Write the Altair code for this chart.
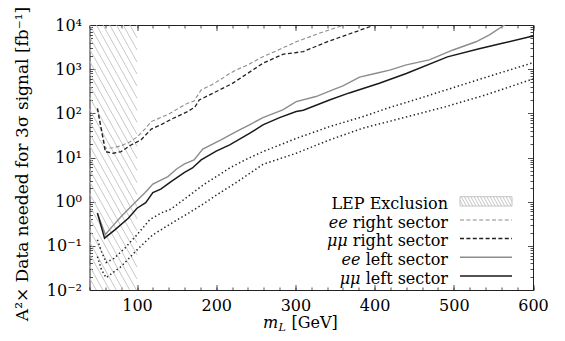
import altair as alt
import pandas as pd
import numpy as np

# ---------------- data ----------------
ee_right_x = [50, 60, 70, 80, 90, 100, 110, 118, 130, 140, 150, 164, 172, 181, 195, 206, 217, 225, 240, 259, 280, 301, 330, 345, 362, 372]
ee_right_y = [130, 16.2, 16.6, 18.5, 22, 29, 44, 65, 80, 96, 123, 170, 190, 338, 450, 590, 800, 955, 1250, 1920, 2800, 4170, 6470, 8000, 10000, 12500]

mu_right_x = [50, 60, 70, 80, 92, 105, 118, 130, 143, 164, 173, 178.5, 197.5, 220, 259, 284, 310, 340, 364, 400, 410]
mu_right_y = [130, 13.6, 12.5, 13.6, 19, 25, 44, 55, 73, 110, 138, 200, 295, 470, 1360, 2170, 2500, 4170, 5900, 10000, 12000]

ee_left_x = [50, 60, 70, 80, 90, 101, 110, 120, 139, 150, 160, 172, 183, 206, 217, 227, 242, 259, 284, 301, 326, 347, 360, 381, 402, 419, 440, 469, 499, 528, 545, 564, 572]
ee_left_y = [0.55, 0.18, 0.29, 0.46, 0.7, 1.1, 1.6, 2.5, 3.7, 5.5, 7.2, 8.8, 15.5, 25, 32, 40, 55, 80, 120, 184, 240, 338, 420, 660, 807, 950, 1250, 1620, 2720, 4170, 6000, 10000, 12500]

mu_left_x = [50, 59, 72, 89, 100, 111, 120, 130, 143, 160, 170, 181, 200, 217, 242, 259, 280, 301, 310, 343, 368, 406, 440, 492, 532, 560, 596, 600]
mu_left_y = [0.55, 0.149, 0.23, 0.42, 0.71, 0.95, 1.6, 1.92, 2.85, 4.6, 5.8, 8.8, 14, 19.3, 35, 55, 80, 110, 118, 200, 290, 480, 800, 1900, 2900, 3800, 5400, 5600]

dot_upper_x = [50, 55, 61, 71, 85, 100, 116, 130, 143, 164, 185, 206, 217, 240, 259, 301, 343, 385, 419, 450, 490, 540, 600]
dot_upper_y = [0.137, 0.075, 0.042, 0.052, 0.09, 0.178, 0.39, 0.55, 0.68, 1.3, 2.5, 4.3, 5.8, 9.5, 13.6, 27, 50, 84, 136, 200, 338, 650, 1400]

dot_lower_x = [50, 55, 61, 80, 100, 120, 143, 165, 185, 205, 225, 259, 301, 343, 385, 419, 490, 540, 600]
dot_lower_y = [0.057, 0.029, 0.019, 0.034, 0.081, 0.178, 0.32, 0.55, 0.92, 1.6, 2.7, 7, 12.5, 25, 46, 66, 142, 260, 600]

lep_range = [40, 100]

x_tick_values = [100, 200, 300, 400, 500, 600]
y_tick_values = [0.01, 0.1, 1, 10, 100, 1000, 10000]
y_tick_labels = ["10\u207b\u00b2", "10\u207b\u00b9", "10\u2070", "10\u00b9", "10\u00b2", "10\u00b3", "10\u2074"]

legend_regular = ["LEP Exclusion", "right sector", "right sector", "left sector", "left sector"]
legend_italic = ["", "ee", "\u03bc\u03bc", "ee", "\u03bc\u03bc"]

y_title = "A\u00b2\u00d7 Data needed for 3\u03c3 signal [fb\u207b\u00b9]"

# ---------------- layout / style ----------------
W, H = 443.5, 265
X_DOMAIN = [40, 600]
Y_DOMAIN = [1e-2, 1e4]
FONT = "DejaVu Serif"
FS = 16

xscale = alt.Scale(domain=X_DOMAIN, nice=False, zero=False)
yscale = alt.Scale(type="log", domain=Y_DOMAIN, nice=False)

LOG_MIN, LOG_MAX = np.log10(Y_DOMAIN[0]), np.log10(Y_DOMAIN[1])


def px_to_m(px):
    return X_DOMAIN[0] + px / W * (X_DOMAIN[1] - X_DOMAIN[0])


def py_to_v(py):
    return 10 ** (LOG_MAX - py / H * (LOG_MAX - LOG_MIN))


def m_to_px(m):
    return (m - X_DOMAIN[0]) / (X_DOMAIN[1] - X_DOMAIN[0]) * W


def hatch_segments(x0, y0, x1, y1, slope=1.8, spacing=6.7):
    rows = []
    c = x0 - (y1 - y0) / slope
    while c < x1:
        xs = max(c, x0)
        ys = y0 + slope * (xs - c)
        xe = min(x1, c + (y1 - y0) / slope)
        ye = y0 + slope * (xe - c)
        if ys < y1 and xe > xs:
            rows.append({"m": px_to_m(xs), "v": py_to_v(ys), "m2": px_to_m(xe), "v2": py_to_v(ye)})
        c += spacing
    return pd.DataFrame(rows)


def line_layer(xs, ys, color, width, dash=None):
    df = pd.DataFrame({"m": xs, "v": ys})
    kw = dict(color=color, strokeWidth=width, clip=True)
    if dash:
        kw["strokeDash"] = dash
    return alt.Chart(df).mark_line(**kw).encode(
        x=alt.X("m:Q", scale=xscale, axis=None),
        y=alt.Y("v:Q", scale=yscale, axis=None),
    )


anchor = pd.DataFrame({"m": [300], "v": [1.0]})


def axis_layer(xaxis=None, yaxis=None):
    return alt.Chart(anchor).mark_point(opacity=0, size=1).encode(
        x=alt.X("m:Q", scale=xscale, axis=xaxis),
        y=alt.Y("v:Q", scale=yscale, axis=yaxis),
    )


def tick_axis(orient, values, size):
    return alt.Axis(orient=orient, values=values, labels=False, domain=False, grid=False,
                    ticks=True, tickSize=size, offset=-size, tickColor="#222", tickWidth=0.8,
                    title=None)


x_minor = list(range(40, 601, 20))
y_minor = [k * 10 ** e for e in range(-2, 4) for k in range(2, 10)]

label_expr = " : ".join(
    f"abs(datum.value - {v}) < {v * 0.01} ? '{l}'" for v, l in zip(y_tick_values, y_tick_labels)
) + " : ''"

layers = []

# LEP hatch region
hatch_df = hatch_segments(m_to_px(lep_range[0]), 0, m_to_px(lep_range[1]), H)
layers.append(alt.Chart(hatch_df).mark_rule(color="#c2c2c2", strokeWidth=0.9).encode(
    x=alt.X("m:Q", scale=xscale, axis=None), x2="m2:Q",
    y=alt.Y("v:Q", scale=yscale, axis=None), y2="v2:Q"))

# curves
DASH = [4, 2.4]
DOT = [1.4, 2.6]
layers += [
    line_layer(ee_right_x, ee_right_y, "#8c8c8c", 1.1, DASH),
    line_layer(mu_right_x, mu_right_y, "#222222", 1.3, DASH),
    line_layer(ee_left_x, ee_left_y, "#8c8c8c", 1.4),
    line_layer(mu_left_x, mu_left_y, "#1a1a1a", 1.5),
    line_layer(dot_upper_x, dot_upper_y, "#222222", 1.5, DOT),
    line_layer(dot_lower_x, dot_lower_y, "#222222", 1.5, DOT),
]

# labelled axes
layers.append(axis_layer(
    xaxis=alt.Axis(orient="bottom", values=x_tick_values, format="d", labelFont=FONT, labelFontSize=FS,
                   labelColor="black", ticks=False, domain=False, grid=False, labelPadding=7,
                   labelFlush=False, labelOverlap=False, title=None),
    yaxis=alt.Axis(orient="left", values=y_tick_values, labelExpr=label_expr, labelFont=FONT,
                   labelFontSize=FS, labelColor="black", ticks=False, domain=False, grid=False,
                   labelPadding=8, labelFlush=False, labelOverlap=False, labelBaseline="middle",
                   title=None),
))

# inward tick axes
for orient in ["bottom", "top"]:
    layers.append(axis_layer(xaxis=tick_axis(orient, x_tick_values, 5.5)))
    layers.append(axis_layer(xaxis=tick_axis(orient, x_minor, 3)))
for orient in ["left", "right"]:
    layers.append(axis_layer(yaxis=tick_axis(orient, y_tick_values, 5.5)))
    layers.append(axis_layer(yaxis=tick_axis(orient, y_minor, 3)))

# axis titles
layers.append(alt.Chart(pd.DataFrame({"t": [y_title]})).mark_text(
    angle=270, font=FONT, fontSize=17, color="black", align="center", baseline="middle").encode(
    x=alt.value(-67), y=alt.value(139), text="t:N"))

XT_BASE = 302.5
layers.append(alt.Chart(pd.DataFrame({"t": ["m"]})).mark_text(
    font=FONT, fontSize=FS, fontStyle="italic", color="black", align="left", baseline="alphabetic").encode(
    x=alt.value(173.5), y=alt.value(XT_BASE), text="t:N"))
layers.append(alt.Chart(pd.DataFrame({"t": ["L"]})).mark_text(
    font=FONT, fontSize=11, fontStyle="italic", color="black", align="left", baseline="alphabetic").encode(
    x=alt.value(189), y=alt.value(XT_BASE + 3.5), text="t:N"))
layers.append(alt.Chart(pd.DataFrame({"t": ["[GeV]"]})).mark_text(
    font=FONT, fontSize=FS, color="black", align="left", baseline="alphabetic").encode(
    x=alt.value(202), y=alt.value(XT_BASE), text="t:N"))

# legend
LEG_TEXT_R = 358.5
LEG_BASE = [184, 202.5, 221, 240, 258.5]
REG_W = {"right sector": 100.3, "left sector": 87.5}
for i, (reg, ita) in enumerate(zip(legend_regular, legend_italic)):
    layers.append(alt.Chart(pd.DataFrame({"t": [reg]})).mark_text(
        font=FONT, fontSize=FS, color="black", align="right", baseline="alphabetic").encode(
        x=alt.value(LEG_TEXT_R), y=alt.value(LEG_BASE[i]), text="t:N"))
    if ita:
        layers.append(alt.Chart(pd.DataFrame({"t": [ita]})).mark_text(
            font=FONT, fontSize=FS, fontStyle="italic", color="black", align="right",
            baseline="alphabetic").encode(
            x=alt.value(LEG_TEXT_R - REG_W[reg]), y=alt.value(LEG_BASE[i]), text="t:N"))

SYM_X0, SYM_X1 = 370.5, 422.5
one = pd.DataFrame({"a": [0]})
# LEP legend box
box_df = hatch_segments(SYM_X0, 171.7, SYM_X1, 181, slope=1.8, spacing=3.2)
layers.append(alt.Chart(box_df).mark_rule(color="#bdbdbd", strokeWidth=0.9).encode(
    x=alt.X("m:Q", scale=xscale, axis=None), x2="m2:Q",
    y=alt.Y("v:Q", scale=yscale, axis=None), y2="v2:Q"))
layers.append(alt.Chart(one).mark_rect(fill=None, stroke="#c4c4c4", strokeWidth=1).encode(
    x=alt.value(SYM_X0), x2=alt.value(SYM_X1), y=alt.value(171.7), y2=alt.value(181)))

legend_styles = [
    ("#8c8c8c", 1.1, DASH),
    ("#222222", 1.3, DASH),
    ("#8c8c8c", 1.4, None),
    ("#1a1a1a", 1.5, None),
]
LEG_SYM_Y = [195, 213.5, 232.3, 251]
for (col, w, dash), yy in zip(legend_styles, LEG_SYM_Y):
    kw = dict(color=col, strokeWidth=w)
    if dash:
        kw["strokeDash"] = dash
    layers.append(alt.Chart(one).mark_rule(**kw).encode(
        x=alt.value(SYM_X0), x2=alt.value(SYM_X1), y=alt.value(yy)))

chart = alt.layer(*layers).resolve_axis(x="independent", y="independent").properties(
    width=W, height=H,
    autosize=alt.AutoSizeParams(type="none"),
    padding={"left": 81.5, "top": 17, "right": 24, "bottom": 43},
).configure_view(stroke="#222", strokeWidth=1)

chart.save("out.html", embed_options={"renderer": "svg", "actions": False})
